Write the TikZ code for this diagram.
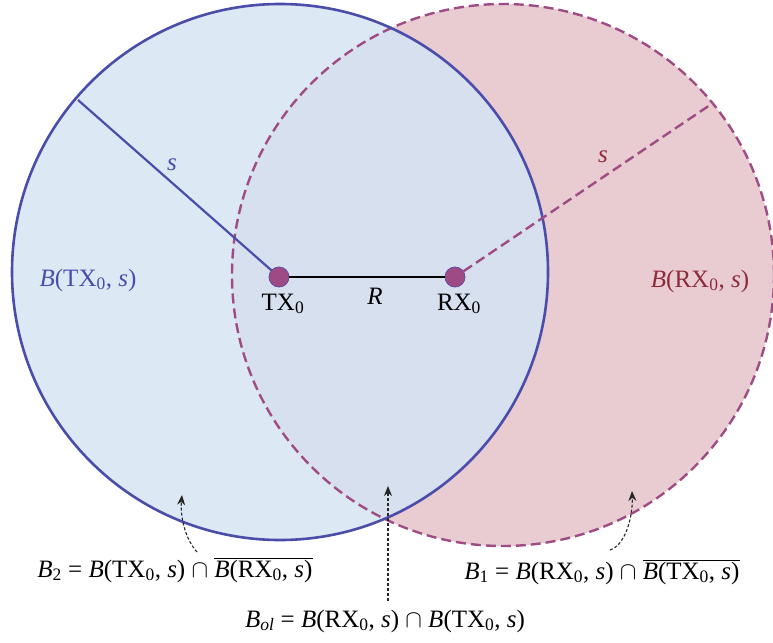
\documentclass[tikz,border=0pt]{standalone}
\usepackage{fontspec}
\setmainfont{Liberation Serif}
\usetikzlibrary{arrows.meta}
\definecolor{bluefill}{HTML}{DCE8F4}
\definecolor{redfill}{HTML}{E8CCD2}
\definecolor{overfill}{HTML}{D6E0EE}
\definecolor{blueline}{HTML}{4A4DAA}
\definecolor{redline}{HTML}{A04C84}
\definecolor{dotfill}{HTML}{9E4A85}
\definecolor{labred}{HTML}{8E2A3A}
\newcommand\Bof[2]{\textit{B}(#1\textsubscript{0}, \textit{#2})}
\newcommand\capsym{ $\cap$ }
\tikzset{
  dot/.style={circle, fill=dotfill, draw=blueline!70!dotfill, line width=0.8pt, minimum size=20pt, inner sep=0pt},
  lab/.style={anchor=base, inner sep=0pt},
  reddash/.style={redline, line width=2.4pt, dash pattern=on 10pt off 5pt},
  pointer/.style={black!85, line width=1.1pt, dash pattern=on 3pt off 2pt, -{Stealth[length=10pt,width=8pt]}},
}
\begin{document}
\begin{tikzpicture}[x=1pt,y=-1pt, font=\fontsize{25}{29}\selectfont]
\useasboundingbox (0,0) rectangle (773,642);
\coordinate (ct) at (280,272);
\coordinate (cr) at (503,275);
\fill[redfill] (cr) circle[radius=271pt];
\fill[bluefill] (ct) circle[radius=268pt];
\begin{scope}
  \clip (cr) circle[radius=271pt];
  \fill[overfill] (ct) circle[radius=268pt];
\end{scope}
\draw[reddash] (cr) circle[radius=271pt];
\draw[blueline, line width=2.6pt] (ct) circle[radius=268pt];
% points
\node[dot] (tx) at (279,277) {};
\node[dot] (rx) at (455,277) {};
\coordinate (tedge) at (78,100);
\coordinate (redge) at (713,103);
\draw[blueline, line width=2.2pt] (tx) -- (tedge);
\draw[reddash] (rx) -- (redge);
\draw[black, line width=2pt] (tx) -- (rx);
% labels
\node[lab, text=blueline] (sb) at (172,170) {\textit{s}};
\node[lab, text=labred] (sr) at (603,162) {\textit{s}};
\node[lab, text=blueline] (btx) at (88,286) {\Bof{TX}{s}};
\node[lab, text=labred] (brx) at (700,287) {\Bof{RX}{s}};
\node[lab] (ltx) at (283,310) {TX\textsubscript{0}};
\node[lab] (lr) at (375,304) {\textit{R}};
\node[lab] (lrx) at (459,310) {RX\textsubscript{0}};
% bottom formulas
\node[lab] (b2) at (175,577) {\textit{B}\textsubscript{2} = \Bof{TX}{s}\capsym$\overline{\mbox{\Bof{RX}{s}}}$};
\node[lab] (b1) at (602,579) {\textit{B}\textsubscript{1} = \Bof{RX}{s}\capsym$\overline{\mbox{\Bof{TX}{s}}}$};
\node[lab] (bol) at (385,627) {\textit{B}\textsubscript{\textit{ol}} = \Bof{RX}{s}\capsym\Bof{TX}{s}};
% pointers
\coordinate (p2s) at (197,552);
\coordinate (p2e) at (182,495);
\coordinate (p1s) at (610,550);
\coordinate (p1e) at (632,491);
\coordinate (pos) at (388,601);
\coordinate (poe) at (388,486);
\draw[pointer] (p2s) .. controls (186,540) and (180,518) .. (p2e);
\draw[pointer] (p1s) .. controls (626,545) and (633,515) .. (p1e);
\draw[pointer] (pos) -- (poe);
\end{tikzpicture}
\end{document}
